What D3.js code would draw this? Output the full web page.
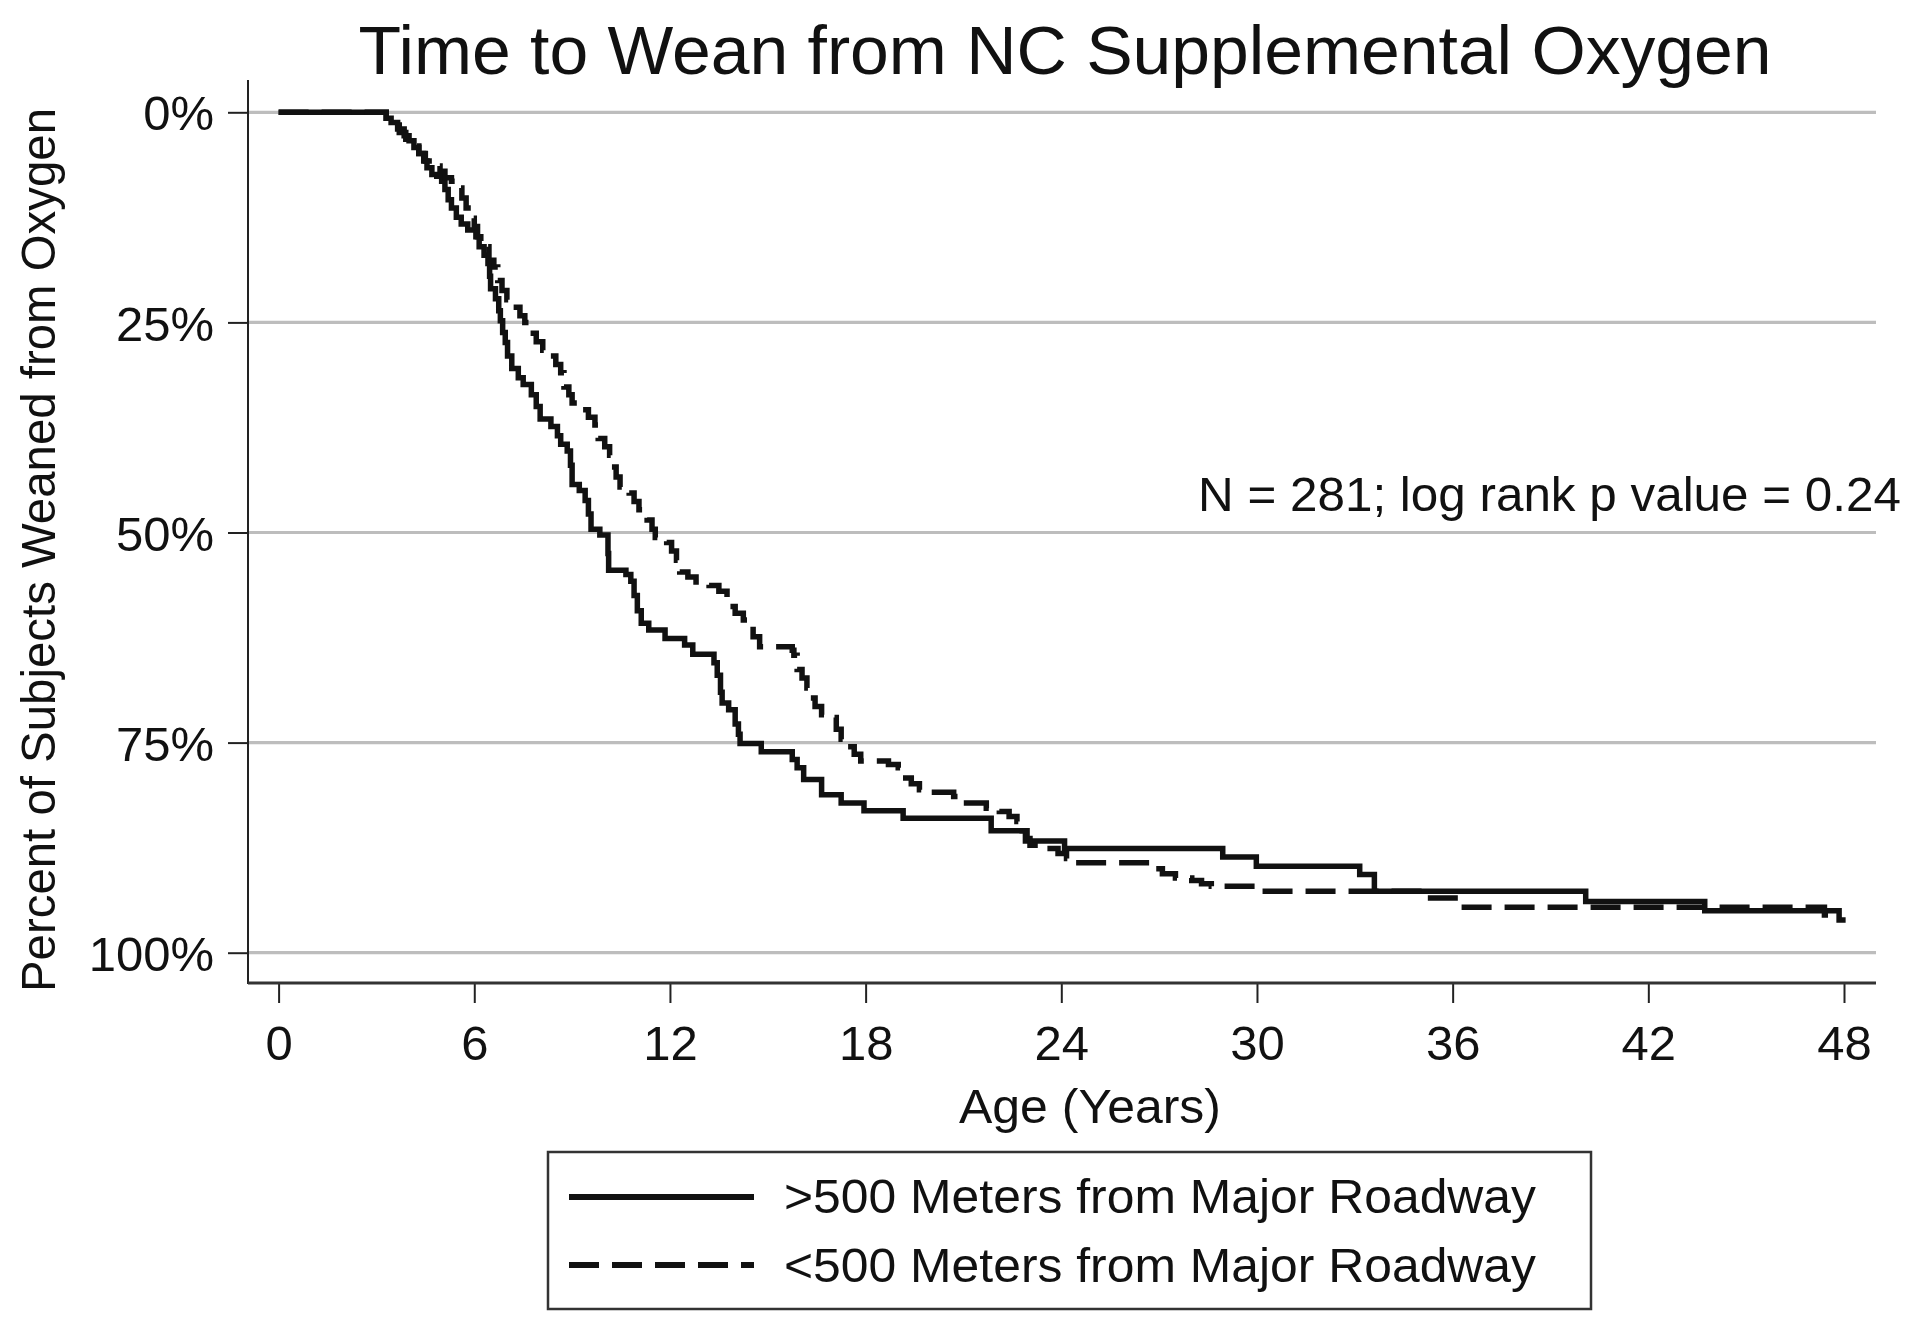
<!DOCTYPE html>
<html>
<head>
<meta charset="utf-8">
<script src="https://cdn.jsdelivr.net/npm/d3@7"></script>
<style>
  html, body { margin: 0; padding: 0; background: #fff; }
  svg text { font-family: "Liberation Sans", Arial, Helvetica, sans-serif; fill: #111; }
</style>
</head>
<body>
<svg id="chart" width="1920" height="1329"></svg>
<script>
// ---------- data ----------
const chartTitle = "Time to Wean from NC Supplemental Oxygen";
const xAxisTitle = "Age (Years)";
const yAxisTitle = "Percent of Subjects Weaned from Oxygen";
const annotation = "N = 281; log rank p value = 0.24";
const seriesNames = [">500 Meters from Major Roadway", "<500 Meters from Major Roadway"];
const xTicks = [0, 6, 12, 18, 24, 30, 36, 42, 48];
const yTicks = [0, 25, 50, 75, 100];

// Kaplan-Meier steps: [age in years, cumulative % weaned after the step]
const farEvents = [
  [0, 0], [3.3, 0.7], [3.45, 1.2], [3.65, 2.0], [3.85, 2.8], [4.0, 3.4], [4.15, 4.2],
  [4.3, 4.9], [4.45, 5.8], [4.55, 6.6], [4.7, 7.4], [4.85, 7.6], [5.0, 8.2], [5.1, 9.2],
  [5.2, 10.4], [5.3, 11.4], [5.45, 12.5], [5.6, 13.3], [5.8, 14.0], [6.05, 14.8],
  [6.15, 16.0], [6.3, 17.0], [6.42, 18.0], [6.47, 19.5], [6.5, 21.0], [6.65, 22.2],
  [6.75, 23.6], [6.8, 24.8], [6.87, 26.2], [6.95, 27.4], [7.02, 29.0], [7.15, 30.5],
  [7.35, 31.6], [7.5, 32.4], [7.75, 33.6], [7.9, 35.0], [8.02, 36.5], [8.35, 37.4],
  [8.55, 38.5], [8.65, 39.5], [8.85, 40.3], [8.95, 42.0], [9.0, 44.3], [9.22, 45.0],
  [9.4, 46.2], [9.5, 47.8], [9.58, 49.6], [9.85, 50.3], [10.1, 52.5], [10.12, 54.5],
  [10.65, 55.0], [10.8, 55.8], [10.9, 57.5], [11.0, 59.3], [11.12, 60.8], [11.35, 61.6],
  [11.85, 62.6], [12.45, 63.4], [12.7, 64.5], [13.35, 65.5], [13.45, 67.0], [13.55, 69.0],
  [13.6, 70.3], [13.8, 71.1], [14.0, 72.8], [14.1, 74.0], [14.15, 75.1], [14.8, 76.1],
  [15.75, 77.0], [15.9, 78.0], [16.1, 79.4], [16.65, 81.2], [17.25, 82.2], [17.95, 83.1],
  [19.15, 84.0], [21.85, 85.5], [22.9, 86.7], [24.1, 87.6], [28.95, 88.6], [29.98, 89.7],
  [33.15, 90.7], [33.6, 92.7], [40.08, 93.9], [43.73, 95.0], [47.85, 96.1], [48.05, 96.1]
];
const nearEvents = [
  [0, 0], [3.3, 0.7], [3.5, 1.5], [3.7, 2.4], [3.9, 3.2], [4.1, 4.0], [4.3, 4.9],
  [4.5, 5.8], [4.7, 6.4], [4.95, 7.0], [5.1, 7.8], [5.3, 8.2], [5.5, 9.0], [5.62, 10.2],
  [5.75, 11.4], [5.9, 12.6], [6.0, 13.6], [6.1, 14.8], [6.2, 16.0], [6.45, 17.6],
  [6.6, 18.4], [6.72, 20.0], [6.85, 21.2], [7.0, 22.3], [7.2, 23.2], [7.4, 24.2],
  [7.55, 25.0], [7.7, 26.3], [7.9, 27.3], [8.1, 28.3], [8.3, 29.0], [8.5, 30.0],
  [8.65, 31.0], [8.75, 32.7], [8.9, 33.6], [9.0, 34.6], [9.25, 35.4], [9.5, 36.3],
  [9.7, 37.2], [9.8, 38.8], [10.0, 39.8], [10.15, 40.8], [10.2, 42.2], [10.35, 43.4],
  [10.47, 44.6], [10.75, 45.3], [10.9, 46.3], [11.05, 47.3], [11.3, 48.5], [11.45, 49.6],
  [11.55, 50.6], [11.9, 51.2], [12.05, 52.2], [12.2, 53.3], [12.3, 54.7], [12.55, 55.3],
  [12.8, 55.9], [13.2, 56.3], [13.5, 57.0], [13.75, 57.7], [13.8, 58.8], [14.0, 59.6],
  [14.25, 60.4], [14.4, 61.2], [14.55, 62.4], [14.75, 63.6], [15.75, 64.0], [15.8, 64.6],
  [15.9, 66.3], [16.05, 67.3], [16.2, 68.5], [16.3, 69.7], [16.45, 70.7], [16.65, 71.7],
  [16.95, 72.0], [17.1, 73.4], [17.25, 74.6], [17.43, 75.5], [17.65, 76.4], [17.85, 77.2],
  [18.7, 77.6], [19.0, 78.0], [19.1, 79.2], [19.4, 79.9], [19.65, 80.6], [20.0, 80.9],
  [20.7, 81.4], [20.9, 82.2], [21.7, 82.8], [22.1, 83.2], [22.4, 83.8], [22.64, 84.4],
  [22.8, 85.5], [22.95, 86.4], [23.04, 87.2], [23.55, 87.6], [23.9, 88.2], [24.16, 88.8],
  [24.4, 89.3], [26.85, 90.0], [27.1, 90.6], [27.5, 91.1], [28.0, 91.4], [28.3, 91.8],
  [28.6, 92.1], [30.1, 92.7], [35.2, 93.5], [36.2, 94.6], [47.4, 95.5], [47.7, 95.5]
];

// ---------- layout ----------
const svg = d3.select("#chart");
const x = d3.scaleLinear().domain([0, 48]).range([278.6, 1844]);
const y = d3.scaleLinear().domain([0, 100]).range([112.3, 952.7]);
const plotLeft = 248, plotRight = 1876, plotTop = 80, plotBottom = 983;

svg.append("rect").attr("width", 1920).attr("height", 1329).attr("fill", "#fff");

// gridlines
svg.append("g").selectAll("line").data(yTicks).join("line")
  .attr("x1", plotLeft).attr("x2", plotRight)
  .attr("y1", d => y(d)).attr("y2", d => y(d))
  .attr("stroke", "#bdbdbd").attr("stroke-width", 3.2);

// y axis
const yAxis = d3.axisLeft(y).tickValues(yTicks).tickFormat(d => d + "%")
  .tickSize(20).tickPadding(14);
const gy = svg.append("g").attr("transform", `translate(${plotLeft},0)`).call(yAxis);
gy.select(".domain").remove();
gy.selectAll(".tick line").attr("stroke", "#222").attr("stroke-width", 2);
gy.selectAll(".tick text").attr("font-size", 49).attr("fill", "#111")
  .attr("font-family", '"Liberation Sans", Arial, Helvetica, sans-serif')
  .attr("dy", "0.36em");
svg.append("line").attr("x1", plotLeft).attr("x2", plotLeft)
  .attr("y1", plotTop).attr("y2", plotBottom + 1)
  .attr("stroke", "#222").attr("stroke-width", 2);

// x axis
const xAxis = d3.axisBottom(x).tickValues(xTicks).tickFormat(d3.format("d"))
  .tickSize(20).tickPadding(22);
const gx = svg.append("g").attr("transform", `translate(0,${plotBottom})`).call(xAxis);
gx.select(".domain").remove();
gx.selectAll(".tick line").attr("stroke", "#222").attr("stroke-width", 2);
gx.selectAll(".tick text").attr("font-size", 49).attr("fill", "#111")
  .attr("font-family", '"Liberation Sans", Arial, Helvetica, sans-serif');
svg.append("line").attr("x1", plotLeft).attr("x2", plotRight)
  .attr("y1", plotBottom).attr("y2", plotBottom)
  .attr("stroke", "#333").attr("stroke-width", 3);

// curves
const line = d3.line().x(d => x(d[0])).y(d => y(d[1])).curve(d3.curveStepAfter);
svg.append("path").datum(farEvents).attr("d", line)
  .attr("fill", "none").attr("stroke", "#111").attr("stroke-width", 5.5)
  .attr("stroke-linejoin", "miter");
svg.append("path").datum(nearEvents).attr("d", line)
  .attr("fill", "none").attr("stroke", "#111").attr("stroke-width", 5.5)
  .attr("stroke-dasharray", "30,13");

// titles
svg.append("text").attr("x", 1065).attr("y", 74).attr("text-anchor", "middle")
  .attr("font-size", 69).attr("textLength", 1413).attr("lengthAdjust", "spacingAndGlyphs")
  .text(chartTitle);
svg.append("text").attr("x", 1090).attr("y", 1123).attr("text-anchor", "middle")
  .attr("font-size", 49).attr("textLength", 262).attr("lengthAdjust", "spacingAndGlyphs")
  .text(xAxisTitle);
svg.append("text").attr("transform", "translate(55,550) rotate(-90)")
  .attr("text-anchor", "middle").attr("font-size", 49)
  .attr("textLength", 884).attr("lengthAdjust", "spacingAndGlyphs")
  .text(yAxisTitle);
svg.append("text").attr("x", 1198).attr("y", 511).attr("font-size", 49)
  .attr("textLength", 703).attr("lengthAdjust", "spacingAndGlyphs")
  .text(annotation);

// legend
const legend = svg.append("g");
legend.append("rect").attr("x", 548).attr("y", 1152).attr("width", 1043).attr("height", 157)
  .attr("fill", "#fff").attr("stroke", "#333").attr("stroke-width", 2.5);
const legendRows = [
  { name: seriesNames[0], dash: null, ly: 1197, ty: 1213 },
  { name: seriesNames[1], dash: "30,13", ly: 1265, ty: 1282 }
];
legendRows.forEach(r => {
  legend.append("line").attr("x1", 569).attr("x2", 754).attr("y1", r.ly).attr("y2", r.ly)
    .attr("stroke", "#111").attr("stroke-width", 6)
    .attr("stroke-dasharray", r.dash);
  legend.append("text").attr("x", 784).attr("y", r.ty).attr("font-size", 49)
    .attr("textLength", 752).attr("lengthAdjust", "spacingAndGlyphs")
    .text(r.name);
});
</script>
</body>
</html>
